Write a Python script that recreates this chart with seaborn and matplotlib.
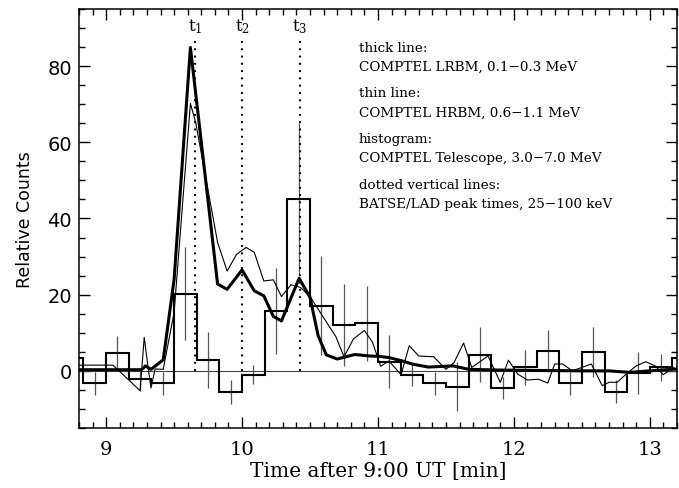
import numpy as np
import pandas as pd
import matplotlib
matplotlib.use("Agg")
import matplotlib.pyplot as plt
from matplotlib.ticker import MultipleLocator
import seaborn as sns

# thick line: COMPTEL LRBM 0.1-0.3 MeV
lrbm_t = [8.80, 9.26, 9.29, 9.33, 9.42, 9.50, 9.62, 9.82, 9.89, 10.00, 10.09, 10.16,
          10.23, 10.29, 10.42, 10.50, 10.56, 10.62, 10.70, 10.83, 10.94, 11.01, 11.08,
          11.18, 11.25, 11.37, 11.55, 11.67, 11.92, 12.20, 12.50, 12.70, 12.85, 13.00, 13.20]
lrbm_c = [0.3, 0.3, 1.3, 0.4, 2.9, 24.0, 84.9, 22.8, 21.4, 26.5, 21.0, 19.7,
          14.3, 13.1, 24.3, 19.3, 9.2, 4.2, 3.1, 4.3, 3.9, 3.8, 3.5,
          2.6, 1.8, 1.0, 1.3, 0.4, 0.2, 0.1, 0.0, 0.0, -0.4, 0.0, 0.5]

# thin line: COMPTEL HRBM 0.6-1.1 MeV
hrbm_t = [8.80, 9.05, 9.25, 9.28, 9.31, 9.33, 9.36, 9.42, 9.50, 9.62, 9.66, 9.82, 9.89,
          9.96, 10.03, 10.09, 10.16, 10.23, 10.29, 10.36, 10.43, 10.50, 10.69, 10.75,
          10.82, 10.90, 10.96, 11.02, 11.08, 11.17, 11.23, 11.30, 11.41, 11.50, 11.56,
          11.63, 11.69, 11.81, 11.90, 11.96, 12.03, 12.10, 12.18, 12.25, 12.30, 12.36,
          12.43, 12.57, 12.65, 12.70, 12.76, 12.84, 12.90, 12.97, 13.04, 13.10, 13.17, 13.20]
hrbm_c = [1.5, 1.5, -5.2, 8.8, 0.5, -4.5, 0.5, 0.4, 15.3, 70.2, 65.0, 33.7, 26.2,
          30.6, 32.4, 31.1, 23.6, 23.9, 19.5, 22.6, 21.9, 19.5, 9.0, 3.7,
          8.4, 10.6, 7.5, 1.2, 2.6, -1.0, 6.6, 3.9, 3.7, 0.4, 2.2,
          7.3, 0.9, 3.9, -3.0, 2.8, -0.9, -2.4, -2.2, -3.2, 1.8, 1.8,
          0.0, 1.8, -3.9, -3.0, -3.0, -0.4, 1.3, 2.4, 1.3, -1.0, 0.9, 0.2]

# histogram: COMPTEL Telescope 3.0-7.0 MeV (10 s bins)
hist_edges = [8.667, 8.833, 9.0, 9.167, 9.333, 9.5, 9.667, 9.833, 10.0, 10.167, 10.333,
              10.5, 10.667, 10.833, 11.0, 11.167, 11.333, 11.5, 11.667, 11.833, 12.0,
              12.167, 12.333, 12.5, 12.667, 12.833, 13.0, 13.167, 13.333]
hist_c = [3.3, -3.3, 4.8, -2.2, -3.3, 20.3, 2.8, -5.5, -1.0, 15.7, 45.1,
          17.1, 12.0, 12.5, 2.4, -1.0, -3.3, -4.2, 4.2, -4.5, 1.0,
          5.2, -3.3, 5.0, -5.5, -0.6, 0.9, 3.5]
hist_err = [3.0, 3.0, 4.4, 3.0, 3.0, 12.2, 7.4, 3.2, 2.5, 11.2, 20.0,
            13.0, 10.8, 9.8, 7.0, 3.0, 3.0, 6.4, 7.2, 3.0, 4.6,
            5.6, 3.0, 6.5, 3.0, 5.5, 3.6, 3.0]

# BATSE/LAD peak times
peak_t = [9.657, 10.0, 10.427]
peak_lab = ["t$_\\mathregular{1}$", "t$_\\mathregular{2}$", "t$_\\mathregular{3}$"]

notes = ["thick line:", "COMPTEL LRBM, 0.1\u22120.3 MeV",
         "thin line:", "COMPTEL HRBM, 0.6\u22121.1 MeV",
         "histogram:", "COMPTEL Telescope, 3.0\u22127.0 MeV",
         "dotted vertical lines:", "BATSE/LAD peak times, 25\u2212100 keV"]

sns.set_theme(style="ticks")
plt.rcParams["font.family"] = ["DejaVu Serif"]
plt.rcParams["mathtext.fontset"] = "dejavuserif"
plt.rcParams["xtick.direction"] = "in"
plt.rcParams["ytick.direction"] = "in"
for k in ["text.color", "axes.labelcolor", "xtick.color", "ytick.color",
          "xtick.labelcolor", "ytick.labelcolor"]:
    plt.rcParams[k] = "black"

fig = plt.figure(figsize=(6.79, 4.89), dpi=100)
ax = fig.add_axes([0.1163, 0.1227, 0.8807, 0.8569])

df_lr = pd.DataFrame({"t": lrbm_t, "c": lrbm_c})
df_hr = pd.DataFrame({"t": hrbm_t, "c": hrbm_c})

ax.axhline(0, color="#444444", lw=0.8, zorder=1)

centers = [(a + b) / 2 for a, b in zip(hist_edges[:-1], hist_edges[1:])]
ax.errorbar(centers, hist_c, yerr=hist_err, fmt="none", ecolor="#555555",
            elinewidth=0.9, capsize=0, zorder=2)
ax.stairs(hist_c, hist_edges, color="black", lw=1.5, baseline=None, zorder=3)

sns.lineplot(data=df_hr, x="t", y="c", ax=ax, color="black", lw=0.8, sort=False,
             estimator=None, zorder=4)
sns.lineplot(data=df_lr, x="t", y="c", ax=ax, color="black", lw=2.2, sort=False,
             estimator=None, zorder=5)

for t, lab in zip(peak_t, peak_lab):
    ax.plot([t, t], [0, 87], color="black", lw=1.5, ls=(0, (0.9, 2.6)), zorder=6)
    ax.text(t, 90.5, lab, ha="center", va="center", fontsize=12, color="black")

ys = [85, 80, 73, 68, 61, 56, 49, 44]
for y, s in zip(ys, notes):
    ax.text(10.86, y, s, fontsize=9.7, va="center", ha="left", color="black")

ax.set_xlim(8.8, 13.2)
ax.set_ylim(-15, 95)
ax.xaxis.set_major_locator(MultipleLocator(1))
ax.xaxis.set_minor_locator(MultipleLocator(0.1))
ax.yaxis.set_major_locator(MultipleLocator(20))
ax.yaxis.set_minor_locator(MultipleLocator(5))
ax.tick_params(which="both", direction="in", top=True, right=True,
               bottom=True, left=True, color="black", width=1)
ax.tick_params(which="major", length=8)
ax.tick_params(which="minor", length=4)
ax.tick_params(axis="x", which="major", labelsize=14, pad=9)
ax.tick_params(axis="y", which="major", labelsize=14, pad=5)
for lab in ax.get_yticklabels():
    lab.set_fontfamily("DejaVu Sans")
for sp in ax.spines.values():
    sp.set_linewidth(1.1)
    sp.set_color("black")

ax.set_xlabel("Time after 9:00 UT [min]", fontsize=14.5, labelpad=2)
ax.set_ylabel("Relative Counts", fontsize=12.5, fontfamily="DejaVu Sans", labelpad=10)

fig.savefig("out.png", dpi=100)
